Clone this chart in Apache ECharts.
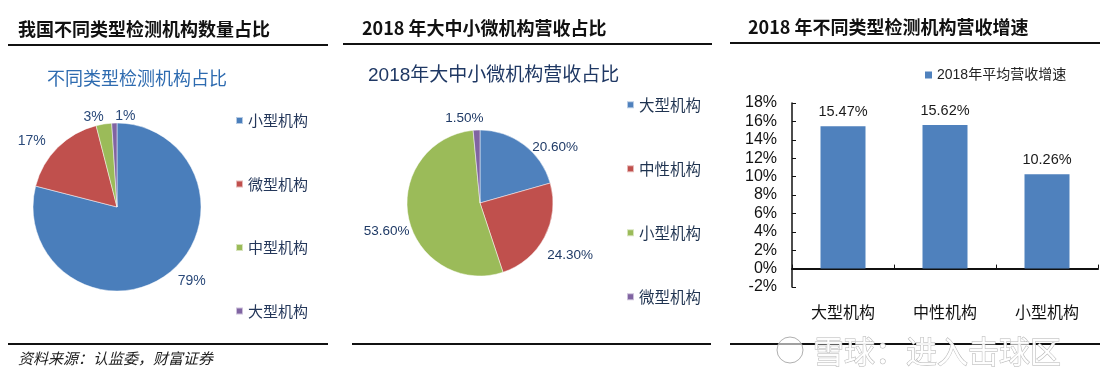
<!DOCTYPE html>
<html><head><meta charset="utf-8">
<script src="https://cdn.jsdelivr.net/npm/echarts@6/dist/echarts.min.js"></script>
<style>html,body{margin:0;padding:0;background:#fff}#c{width:1108px;height:384px}</style>
</head><body><div id="c"></div>
<script>
// Panel 1: share of testing institutions by type
const countNames = ['小型机构', '微型机构', '中型机构', '大型机构'];
const countValues = [79, 17, 3, 1];
const countColors = ['#4a7ebb', '#c0504d', '#9bbb59', '#8064a2'];
// Panel 2: 2018 revenue share
const revenueNames = ['大型机构', '中性机构', '小型机构', '微型机构'];
const revenueValues = [20.6, 24.3, 53.6, 1.5];
const revenueColors = ['#4f81bd', '#c0504d', '#9bbb59', '#8064a2'];
// Panel 3: 2018 average revenue growth
const growthSeriesName = '2018年平均营收增速';
const growthCategories = ['大型机构', '中性机构', '小型机构'];
const growthValues = [15.47, 15.62, 10.26];
const growthAxis = { min: -2, max: 18, interval: 2 };

const SANS = '"Liberation Sans", "Noto Sans CJK SC", sans-serif';
const CJK = '"Noto Sans CJK SC", "Liberation Sans", sans-serif';

// small label nudges (style only) to mimic the original label placement
const countLabelNudge = [[-4, 2, null], [2, -2, null], [10, 0, null], [10, 0, 'left']];
const revenueLabelNudge = [[0, 4], [-6, 17], [10, 13], [14, -10]];

const chart = echarts.init(document.getElementById('c'), null, { renderer: 'canvas' });

function hline(x1, x2, y, w) {
  return { type: 'line', shape: { x1: x1, y1: y, x2: x2, y2: y }, style: { stroke: '#111', lineWidth: w }, silent: true };
}
function txt(x, y, text, font, color, align, extra) {
  return { type: 'text', x: x, y: y, silent: true,
    style: Object.assign({ text: text, font: font, fill: color, align: align || 'left', verticalAlign: 'middle' }, extra || {}) };
}

const option = {
  backgroundColor: '#fff',
  animation: false,
  graphic: [
    txt(18, 29, '我国不同类型检测机构数量占比', 'bold 18px ' + CJK, '#111'),
    txt(362, 28, '2018 年大中小微机构营收占比', 'bold 18px ' + CJK, '#111'),
    txt(748, 27, '2018 年不同类型检测机构营收增速', 'bold 18px ' + CJK, '#111'),
    hline(8, 328, 45, 2),
    hline(343, 712, 44, 2),
    hline(730, 1100, 43, 2),
    hline(8, 328, 344, 2),
    hline(352, 711, 344, 2),
    hline(730, 1100, 344, 2),
    txt(137, 78, '不同类型检测机构占比', '18px ' + CJK, '#2e6bb0', 'center'),
    txt(368, 76, '2018年大中小微机构营收占比', '19px ' + SANS, '#1f3864', 'left'),
    txt(18, 358, '资料来源：认监委，财富证券', 'italic 15px ' + CJK, '#222', 'left'),
    { type: 'circle', shape: { cx: 790, cy: 350, r: 13 }, silent: true, style: { fill: 'rgba(255,255,255,0.6)', stroke: '#b0b0b0', lineWidth: 1 } },
    txt(813, 351, '雪球：进入击球区', '31px ' + CJK, '#ffffff', 'left', { stroke: '#b0b0b0', lineWidth: 1, opacity: 0.95 })
  ],
  legend: [
    {
      orient: 'vertical', left: 230, top: 108, itemWidth: 7, itemHeight: 7, itemGap: 48.5,
      icon: 'rect', selectedMode: false,
      textStyle: { fontSize: 15, color: '#24375a', fontFamily: CJK },
      data: countNames.map((n, i) => ({ name: n, itemStyle: { color: countColors[i] } }))
    },
    {
      orient: 'vertical', left: 621, top: 92, itemWidth: 7, itemHeight: 7, itemGap: 48.5,
      icon: 'rect', selectedMode: false,
      textStyle: { fontSize: 15.5, color: '#1f3350', fontFamily: CJK },
      data: revenueNames.map((n, i) => ({ name: n, itemStyle: { color: revenueColors[i] } }))
    },
    {
      left: 920, top: 63, itemWidth: 7, itemHeight: 7, icon: 'rect', selectedMode: false,
      textStyle: { fontSize: 14, color: '#222', fontFamily: SANS },
      data: [growthSeriesName]
    }
  ],
  grid: { left: 792, right: 10, top: 103, bottom: 97, containLabel: false },
  xAxis: {
    type: 'category', data: growthCategories,
    axisLine: { onZero: true, lineStyle: { color: '#111', width: 2 } },
    axisTick: { show: true, inside: true, length: 4, lineStyle: { color: '#111' } },
    axisLabel: { margin: 17, fontSize: 16, color: '#111', fontFamily: CJK }
  },
  yAxis: {
    type: 'value', min: growthAxis.min, max: growthAxis.max, interval: growthAxis.interval,
    splitLine: { show: false },
    axisLine: { show: true, lineStyle: { color: '#111', width: 1.5 } },
    axisTick: { show: true, inside: true, length: 4, lineStyle: { color: '#111' } },
    axisLabel: { formatter: '{value}%', margin: 15, fontSize: 16, color: '#111', fontFamily: SANS }
  },
  series: [
    {
      type: 'pie', name: '不同类型检测机构占比', center: [117, 207], radius: 84,
      startAngle: 90, clockwise: true, avoidLabelOverlap: false,
      itemStyle: { borderColor: 'rgba(255,255,255,0.6)', borderWidth: 0.8 },
      label: { show: true, position: 'outside', formatter: p => p.value + '%', fontSize: 14, color: '#2b4a7a', fontFamily: SANS },
      labelLine: { show: false, length: 7, length2: 4 },
      labelLayout: p => {
        const n = countLabelNudge[p.dataIndex];
        const o = { dx: n[0], dy: n[1] };
        if (n[2]) o.align = n[2];
        return o;
      },
      emphasis: { disabled: true },
      data: countNames.map((n, i) => ({ name: n, value: countValues[i], itemStyle: { color: countColors[i] } }))
    },
    {
      type: 'pie', name: '2018年大中小微机构营收占比', center: [480, 203], radius: 73,
      startAngle: 90, clockwise: true, avoidLabelOverlap: false,
      itemStyle: { borderColor: 'rgba(255,255,255,0.6)', borderWidth: 0.8 },
      label: { show: true, position: 'outside', formatter: p => p.value.toFixed(2) + '%', fontSize: 13.5, color: '#1f3a66', fontFamily: SANS },
      labelLine: { show: false, length: 2, length2: 2 },
      labelLayout: p => ({ dx: revenueLabelNudge[p.dataIndex][0], dy: revenueLabelNudge[p.dataIndex][1] }),
      emphasis: { disabled: true },
      data: revenueNames.map((n, i) => ({ name: n, value: revenueValues[i], itemStyle: { color: revenueColors[i] } }))
    },
    {
      type: 'bar', name: growthSeriesName, data: growthValues, barWidth: 45,
      itemStyle: { color: '#4f81bd' },
      label: { show: true, position: 'top', distance: 7, formatter: p => p.value.toFixed(2) + '%', fontSize: 14.5, color: '#1a1a1a', fontFamily: SANS },
      emphasis: { disabled: true }
    }
  ]
};
chart.setOption(option);
</script>
</body></html>
